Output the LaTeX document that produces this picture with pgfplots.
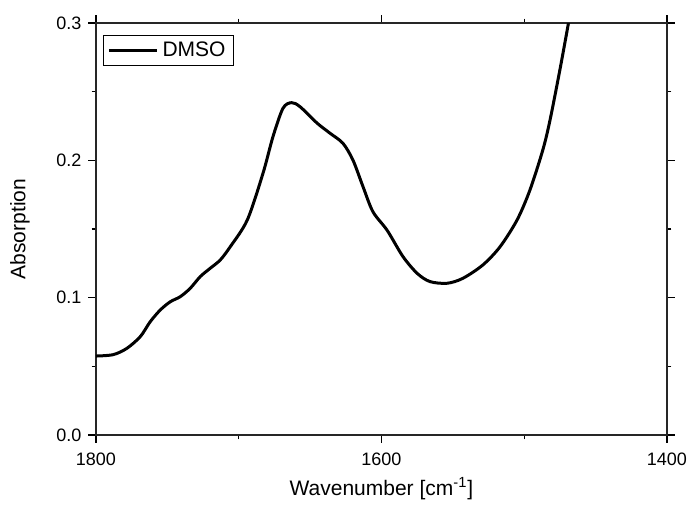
\documentclass[border=0pt]{standalone}
\usepackage{fontspec}
\setmainfont{Liberation Sans}
\usepackage{pgfplots}
\pgfplotsset{compat=1.18}

\pgfplotstableread{
wn      abs
1800    0.0575
1788    0.0585
1778.5  0.0630
1769    0.0716
1762    0.0825
1755    0.0910
1748    0.0970
1741    0.1007
1734    0.1068
1727    0.1153
1720    0.1214
1713    0.1274
1706    0.1370
1694    0.1566
1683    0.1906
1676    0.2173
1669    0.2379
1663    0.2420
1657    0.2390
1645    0.2270
1636    0.2197
1627    0.2124
1620    0.2002
1613    0.1810
1606    0.1626
1596    0.1490
1585    0.1300
1575    0.1177
1566    0.1117
1554    0.1105
1543    0.1141
1529    0.1238
1517    0.1370
1505    0.1566
1496    0.1784
1487    0.2075
1482    0.2290
1475    0.2660
1469    0.3000
}\dmso

\begin{document}
\begin{tikzpicture}
\begin{axis}[
    at={(0,0)}, anchor=south west,
    scale only axis,
    width=285.5pt, height=206pt,
    x dir=reverse,
    xmin=1400, xmax=1800,
    ymin=0, ymax=0.3,
    xtick={1400,1600,1800},
    minor xtick={1500,1700},
    ytick={0,0.1,0.2,0.3},
    minor ytick={0.05,0.15,0.25},
    tick align=outside,
    major tick length=3.8pt,
    minor tick length=2.2pt,
    every tick/.style={black, line width=0.7pt},
    axis line style={line width=0.8pt, black!85},
    xticklabel style={/pgf/number format/1000 sep={}},
    yticklabel style={/pgf/number format/.cd, fixed, fixed zerofill, precision=1},
    /pgf/number format/assume math mode=true,
    tick label style={font=\fontsize{9}{10.5}\selectfont},
    xticklabel shift=1.5pt,
    label style={font=\fontsize{10.5}{12}\selectfont},
    xlabel={Wavenumber [cm\textsuperscript{-1}]},
    ylabel={Absorption},
    xlabel style={at={(axis description cs:0.5,-0.131)}, anchor=center},
    ylabel style={at={(axis description cs:-0.133,0.5)}, anchor=center},
    legend style={
        at={(axis description cs:0.0123,0.971)}, anchor=north west,
        draw=black, line width=0.5pt,
        font=\fontsize{10.5}{12}\selectfont,
        inner xsep=2pt, inner ysep=1pt,
        legend cell align=left,
    },
    legend image code/.code={\draw[line width=1.5pt] (0pt,0pt) -- (24pt,0pt);},
    clip=true,
]
\addplot[black, line width=1.5pt, smooth, tension=0.5] table[x=wn, y=abs] {\dmso};
\addlegendentry{DMSO}
\end{axis}
\pgfresetboundingbox
\path[use as bounding box] (-48pt,-35pt) rectangle (298pt,217.5pt);
\end{tikzpicture}
\end{document}
